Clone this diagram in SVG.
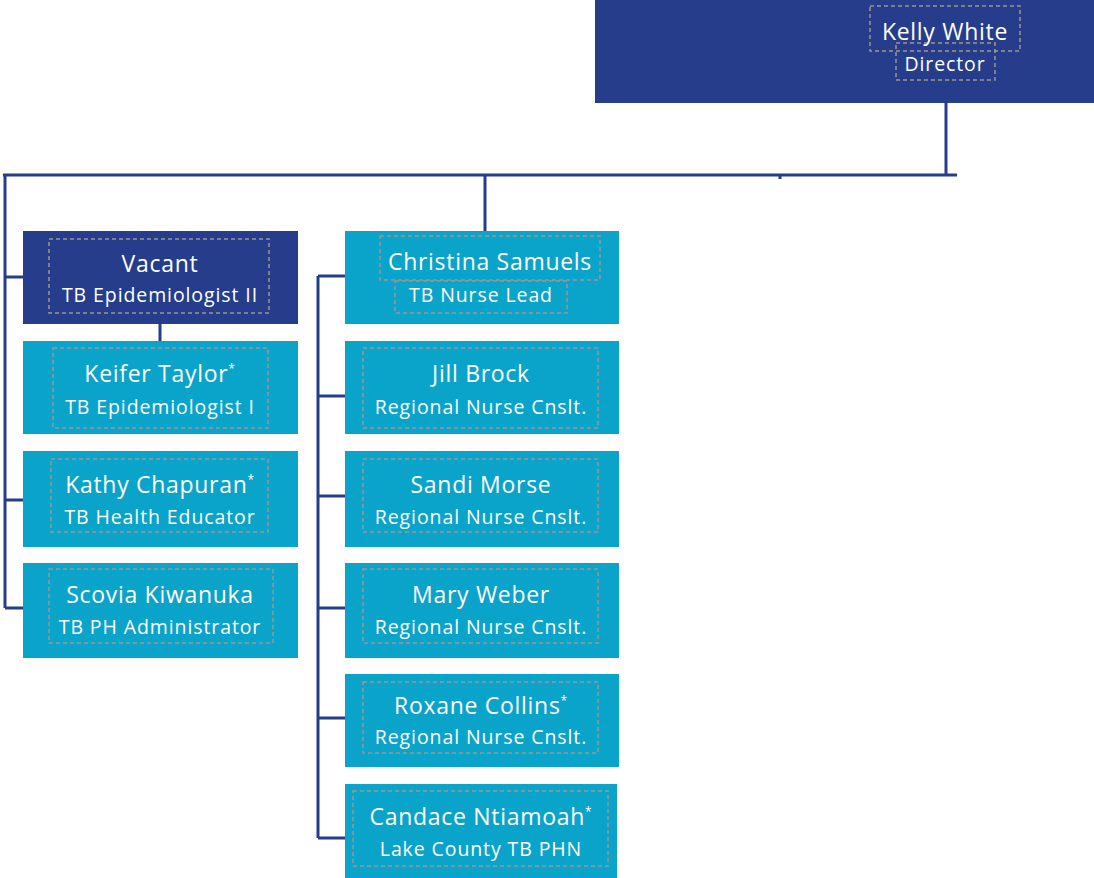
<svg xmlns="http://www.w3.org/2000/svg" width="1094" height="878" viewBox="0 0 1094 878">
<style>
.dark{fill:#253d8b}
.teal{fill:#0aa3c9}
.dash{fill:none;stroke:#a09590;stroke-width:1.5;stroke-dasharray:4 3}
.conn{fill:none;stroke:#253d8b;stroke-width:3}
text{font-family:"Open Sans",Lato,"Liberation Sans",sans-serif;fill:#ffffff;text-anchor:middle}
.nm{font-size:23px;letter-spacing:0.7px}
.tt{font-size:19.5px;letter-spacing:0.9px}
.st{font-size:12px}
</style>
<rect width="1094" height="878" fill="#ffffff"/>
<g id="connectors">
<path class="conn" d="M946 103V175M3 175H957M485 175V232M5 175V608M5 277H24M5 500H24M5 608H24M160 324V341M318 276V838M318 276H346M318 396H346M318 496H346M318 608H346M318 718H346M318 838H346"/>
<path class="conn" d="M780 175V179" stroke-width="2"/>
</g>
<g id="director">
<rect class="dark" x="595" y="0" width="499" height="103"/>
<rect class="dash" x="870" y="6" width="150" height="45"/>
<rect class="dash" x="896" y="43" width="99" height="37"/>
<text class="nm" x="945" y="40">Kelly White</text>
<text class="tt" x="945" y="71">Director</text>
</g>
<g id="vacant">
<rect class="dark" x="23" y="231" width="275" height="93"/>
<rect class="dash" x="49" y="239" width="220" height="74"/>
<text class="nm" x="160" y="272">Vacant</text>
<text class="tt" x="160" y="302">TB Epidemiologist II</text>
</g>
<g id="keifer">
<rect class="teal" x="23" y="341" width="275" height="93"/>
<rect class="dash" x="53" y="348" width="215" height="80"/>
<text class="nm" x="160" y="382">Keifer Taylor<tspan class="st" dy="-9">*</tspan></text>
<text class="tt" x="160" y="414">TB Epidemiologist I</text>
</g>
<g id="kathy">
<rect class="teal" x="23" y="451" width="275" height="96"/>
<rect class="dash" x="51" y="459" width="217" height="73"/>
<text class="nm" x="160" y="493">Kathy Chapuran<tspan class="st" dy="-9">*</tspan></text>
<text class="tt" x="160" y="524">TB Health Educator</text>
</g>
<g id="scovia">
<rect class="teal" x="23" y="563" width="275" height="95"/>
<rect class="dash" x="49" y="569" width="224" height="74"/>
<text class="nm" x="160" y="603">Scovia Kiwanuka</text>
<text class="tt" x="160" y="634">TB PH Administrator</text>
</g>
<g id="christina">
<rect class="teal" x="345" y="231" width="274" height="93"/>
<rect class="dash" x="380" y="236" width="220" height="44"/>
<rect class="dash" x="395" y="281" width="172" height="32"/>
<text class="nm" x="490" y="270">Christina Samuels</text>
<text class="tt" x="481" y="302">TB Nurse Lead</text>
</g>
<g id="jill">
<rect class="teal" x="345" y="341" width="274" height="93"/>
<rect class="dash" x="363" y="348" width="235" height="80"/>
<text class="nm" x="481" y="382">Jill Brock</text>
<text class="tt" x="481" y="414">Regional Nurse Cnslt.</text>
</g>
<g id="sandi">
<rect class="teal" x="345" y="451" width="274" height="96"/>
<rect class="dash" x="363" y="459" width="235" height="73"/>
<text class="nm" x="481" y="493">Sandi Morse</text>
<text class="tt" x="481" y="524">Regional Nurse Cnslt.</text>
</g>
<g id="mary">
<rect class="teal" x="345" y="563" width="274" height="95"/>
<rect class="dash" x="363" y="569" width="235" height="74"/>
<text class="nm" x="481" y="603">Mary Weber</text>
<text class="tt" x="481" y="634">Regional Nurse Cnslt.</text>
</g>
<g id="roxane">
<rect class="teal" x="345" y="674" width="274" height="93"/>
<rect class="dash" x="363" y="682" width="235" height="71"/>
<text class="nm" x="481" y="714">Roxane Collins<tspan class="st" dy="-9">*</tspan></text>
<text class="tt" x="481" y="744">Regional Nurse Cnslt.</text>
</g>
<g id="candace">
<rect class="teal" x="345" y="784" width="272" height="94"/>
<rect class="dash" x="353" y="791" width="255" height="75"/>
<text class="nm" x="481" y="825">Candace Ntiamoah<tspan class="st" dy="-9">*</tspan></text>
<text class="tt" x="481" y="856">Lake County TB PHN</text>
</g>
</svg>
